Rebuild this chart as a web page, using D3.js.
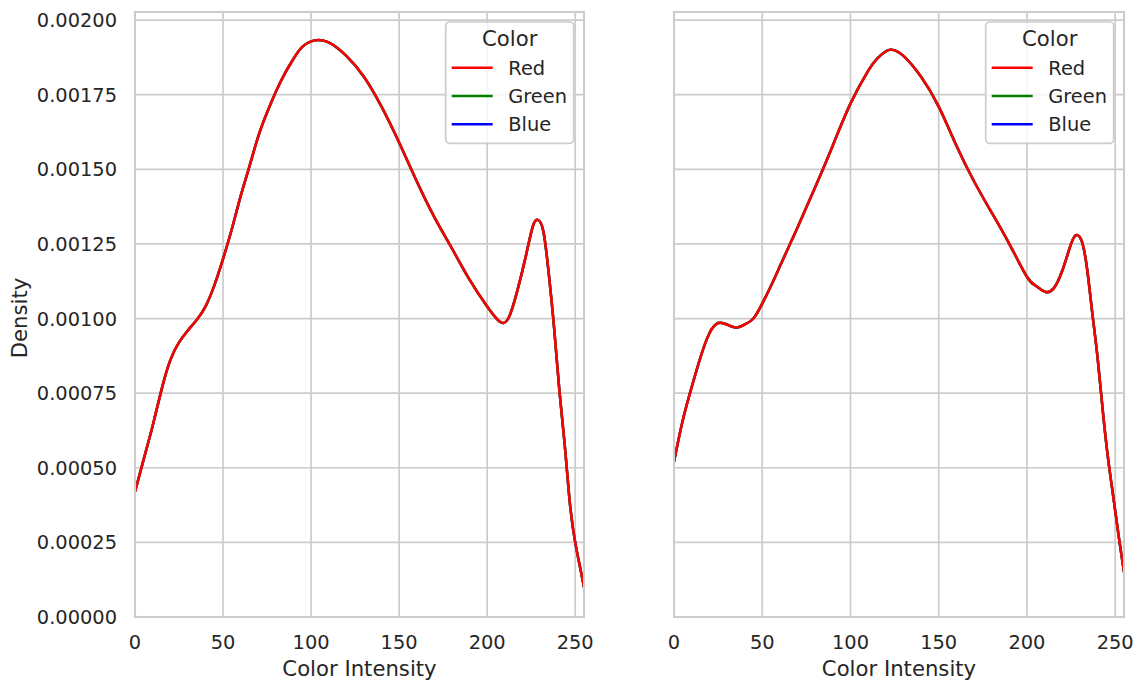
<!DOCTYPE html>
<html>
<head>
<meta charset="utf-8">
<script src="https://cdn.jsdelivr.net/npm/d3@7"></script>
<style>
  html, body { margin: 0; padding: 0; background: #ffffff; }
  svg { display: block; }
  text { font-family: "DejaVu Sans", sans-serif; fill: #262626; }
</style>
</head>
<body>
<svg id="chart" width="1136" height="684"></svg>
<script>
// ---------- data ----------
const colorLevels = ["Red", "Green", "Blue"];
const lineColors = ["#ff0000", "#008000", "#0000ff"];

const xTicks = [0, 50, 100, 150, 200, 250];
const yTicks = [0, 0.00025, 0.0005, 0.00075, 0.001, 0.00125, 0.0015, 0.00175, 0.002];

// left panel density (intensity, density)
const leftX = [0, 5, 10, 15, 20, 25, 30, 35, 40, 45, 50, 55, 60, 65, 70, 75, 80, 85, 90, 95, 102, 110, 120, 130, 140, 150, 160, 170, 180, 190, 200, 207, 212, 217, 222, 226, 229, 232, 235, 238, 241, 244, 247, 250, 253, 255];
const leftY = [0.00042, 0.00053, 0.00064, 0.00076, 0.00086, 0.00092, 0.00096, 0.000995, 0.00104, 0.00111, 0.00120, 0.00130, 0.00141, 0.00151, 0.00161, 0.00169, 0.00176, 0.00182, 0.00187, 0.00191, 0.001932, 0.001925, 0.00188, 0.00181, 0.00171, 0.00159, 0.00146, 0.00134, 0.001235, 0.00113, 0.00104, 0.00099, 0.001, 0.00109, 0.00121, 0.00131, 0.00133, 0.00129, 0.00115, 0.00097, 0.00076, 0.00058, 0.00038, 0.00025, 0.00016, 0.0001];

// right panel density
const rightX = [0, 5, 10, 15, 20, 25, 30, 35, 40, 45, 50, 55, 60, 65, 70, 80, 90, 100, 110, 115, 122, 130, 140, 150, 160, 170, 180, 190, 200, 205, 210, 215, 220, 225, 228, 231, 234, 237, 240, 243, 246, 249, 252, 255];
const rightY = [0.00052, 0.00066, 0.00077, 0.00087, 0.00095, 0.000985, 0.00098, 0.00097, 0.00098, 0.001, 0.00105, 0.00111, 0.001175, 0.00124, 0.001305, 0.00144, 0.00158, 0.00172, 0.00183, 0.00187, 0.0019, 0.00188, 0.00181, 0.00171, 0.00158, 0.00146, 0.001355, 0.00125, 0.00114, 0.00111, 0.00109, 0.0011, 0.00116, 0.00125, 0.00128, 0.00126, 0.00117, 0.00102, 0.00087, 0.00069, 0.00053, 0.0004, 0.00027, 0.00015];

// ---------- layout ----------
const svg = d3.select("#chart");
const plotTop = 12, plotBottom = 617;
const panels = [
  { left: 135, right: 584, xs: leftX, ys: leftY, yLabels: true },
  { left: 674, right: 1124, xs: rightX, ys: rightY, yLabels: false }
];
const y = d3.scaleLinear().domain([0, 0.002027]).range([plotBottom, plotTop]);
const tickFont = 19.4, labelFont = 21.2;
const gridColor = "#cccccc";

panels.forEach((p, pi) => {
  const x = d3.scaleLinear().domain([0, 255]).range([p.left, p.right]);
  const g = svg.append("g");

  // grid
  g.selectAll(".vg").data(xTicks).enter().append("line")
    .attr("x1", d => x(d)).attr("x2", d => x(d))
    .attr("y1", plotTop).attr("y2", plotBottom)
    .attr("stroke", gridColor).attr("stroke-width", 1.7);
  g.selectAll(".hg").data(yTicks).enter().append("line")
    .attr("x1", p.left).attr("x2", p.right)
    .attr("y1", d => y(d)).attr("y2", d => y(d))
    .attr("stroke", gridColor).attr("stroke-width", 1.7);

  // x tick labels
  g.selectAll(".xt").data(xTicks).enter().append("text")
    .attr("x", d => x(d)).attr("y", 648.5)
    .attr("text-anchor", "middle").style("font-size", tickFont + "px")
    .text(d => d3.format("d")(d));

  // y tick labels
  if (p.yLabels) {
    g.selectAll(".yt").data(yTicks).enter().append("text")
      .attr("x", 117).attr("y", d => y(d) + 7)
      .attr("text-anchor", "end").style("font-size", tickFont + "px")
      .text(d => d3.format(".5f")(d));
    g.append("text")
      .attr("transform", `translate(26.5,318) rotate(-90)`)
      .attr("text-anchor", "middle").style("font-size", labelFont + "px")
      .text("Density");
  }

  // x label
  g.append("text")
    .attr("x", (p.left + p.right) / 2).attr("y", 675.5)
    .attr("text-anchor", "middle").style("font-size", labelFont + "px")
    .text("Color Intensity");

  // curves (drawn Blue, Green, Red so Red ends on top)
  const clipId = "clip" + pi;
  svg.append("clipPath").attr("id", clipId).append("rect")
    .attr("x", p.left).attr("y", plotTop).attr("width", p.right - p.left).attr("height", plotBottom - plotTop);
  const pts = p.xs.map((v, i) => [v, p.ys[i]]);
  const line = d3.line().x(d => x(d[0])).y(d => y(d[1])).curve(d3.curveNatural);
  const cg = g.append("g").attr("clip-path", `url(#${clipId})`);
  [2, 1, 0].forEach(ci => {
    cg.append("path").datum(pts)
      .attr("d", line).attr("fill", "none")
      .attr("stroke", lineColors[ci]).attr("stroke-width", 2.5)
      .attr("stroke-linejoin", "round").attr("stroke-linecap", "butt");
  });

  // frame
  g.append("rect")
    .attr("x", p.left).attr("y", plotTop)
    .attr("width", p.right - p.left).attr("height", plotBottom - plotTop)
    .attr("fill", "none").attr("stroke", gridColor).attr("stroke-width", 2.1);

  // legend
  const lw = 128, lh = 121.3;
  const lx = p.right - 10.3 - lw, ly = 22;
  const lg = g.append("g");
  lg.append("rect").attr("x", lx).attr("y", ly).attr("width", lw).attr("height", lh)
    .attr("rx", 4).attr("ry", 4)
    .attr("fill", "#ffffff").attr("fill-opacity", 0.8)
    .attr("stroke", gridColor).attr("stroke-width", 1.7);
  lg.append("text").attr("x", lx + lw / 2).attr("y", ly + 24)
    .attr("text-anchor", "middle").style("font-size", labelFont + "px").text("Color");
  colorLevels.forEach((name, i) => {
    const yy = ly + 45.7 + i * 28.3;
    lg.append("line").attr("x1", lx + 6).attr("x2", lx + 47)
      .attr("y1", yy).attr("y2", yy)
      .attr("stroke", lineColors[i]).attr("stroke-width", 2.5);
    lg.append("text").attr("x", lx + 62.6).attr("y", yy + 7)
      .style("font-size", tickFont + "px").text(name);
  });
});
</script>
</body>
</html>
